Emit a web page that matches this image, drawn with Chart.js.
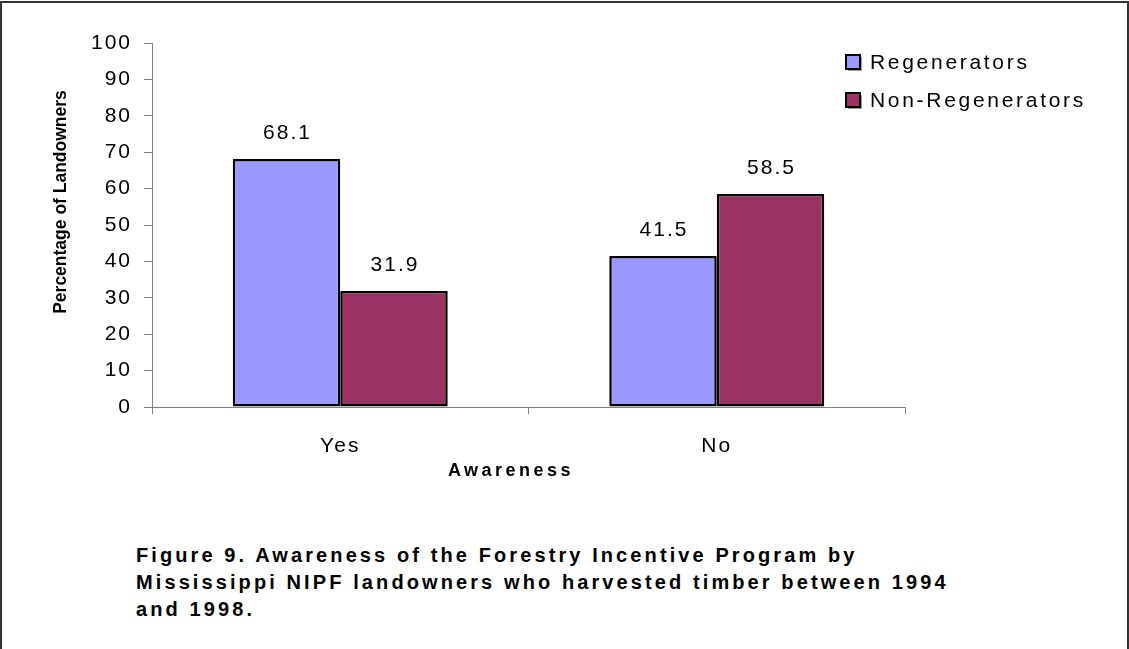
<!DOCTYPE html>
<html lang="en">
<head>
<meta charset="UTF-8">
<title>Figure 9. Awareness of the Forestry Incentive Program</title>
<script src="https://cdn.jsdelivr.net/npm/chart.js"></script>
<style>
    body { margin: 0; background: #fff; width: 1129px; height: 649px; overflow: hidden; }
    #frame { position: absolute; left: 0; top: 1px; width: 1125px; height: 660px; border: 2px solid #333; border-bottom: none; }
    #wrap { position: absolute; left: 0; top: 0; width: 1129px; height: 500px; }
    #caption {
        position: absolute; left: 136px; top: 542px;
        font: bold 20px "Liberation Sans", Arial, sans-serif;
        line-height: 27px; letter-spacing: 3.1px; color: #000;
    }
</style>
</head>
<body>
<div id="frame"></div>
<div id="wrap"><canvas id="chart" width="1129" height="500"></canvas></div>
<div id="caption">Figure 9. Awareness of the Forestry Incentive Program by<br>Mississippi NIPF landowners who harvested timber between 1994<br>and 1998.</div>

<script>
    const categories = ['Yes', 'No'];
    const regenerators = [68.1, 41.5];
    const nonRegenerators = [31.9, 58.5];
    const seriesNames = ['Regenerators', 'Non-Regenerators'];
    const seriesColors = ['#9999FF', '#993366'];
    const yTitle = 'Percentage of Landowners';
    const xTitle = 'Awareness';

    const FONT = '"Liberation Sans", Arial, sans-serif';

    // value labels, legend and axis titles drawn straight on the canvas
    const extras = {
        id: 'extras',
        beforeDraw(chart) {
            chart.ctx.letterSpacing = '2px';
        },
        afterDatasetsDraw(chart) {
            const ctx = chart.ctx;
            ctx.save();
            ctx.font = '21px ' + FONT;
            ctx.letterSpacing = '2px';
            ctx.fillStyle = '#000';
            ctx.textAlign = 'center';
            ctx.textBaseline = 'middle';
            chart.data.datasets.forEach((ds, i) => {
                chart.getDatasetMeta(i).data.forEach((bar, j) => {
                    ctx.fillText(ds.data[j].toFixed(1), bar.x + 1, bar.y - 26);
                });
            });
            ctx.restore();
        },
        afterDraw(chart) {
            const ctx = chart.ctx;
            const area = chart.chartArea;
            ctx.save();

            // legend
            ctx.font = '21px ' + FONT;
            ctx.letterSpacing = '2.7px';
            ctx.textAlign = 'left';
            ctx.textBaseline = 'middle';
            chart.data.datasets.forEach((ds, i) => {
                const y = 62 + i * 38;
                ctx.fillStyle = '#999';
                ctx.fillRect(848, y - 5, 14, 14);
                ctx.fillStyle = ds.backgroundColor;
                ctx.fillRect(846, y - 7, 14, 14);
                ctx.lineWidth = 2;
                ctx.strokeStyle = '#000';
                ctx.strokeRect(846, y - 7, 14, 14);
                ctx.fillStyle = '#000';
                ctx.fillText(ds.label, 870, y + 1);
            });

            // axis titles
            ctx.font = 'bold 17.5px ' + FONT;
            ctx.letterSpacing = '0px';
            ctx.textAlign = 'center';
            ctx.save();
            ctx.translate(61, 202);
            ctx.rotate(-Math.PI / 2);
            ctx.fillText(yTitle, 0, 0);
            ctx.restore();

            ctx.font = 'bold 18px ' + FONT;
            ctx.letterSpacing = '3.5px';
            ctx.fillText(xTitle, 511, area.bottom + 64);
            ctx.restore();
        }
    };

    new Chart(document.getElementById('chart'), {
        type: 'bar',
        data: {
            labels: categories,
            datasets: [
                { label: seriesNames[0], data: regenerators, backgroundColor: seriesColors[0] },
                { label: seriesNames[1], data: nonRegenerators, backgroundColor: seriesColors[1] }
            ]
        },
        options: {
            responsive: false,
            animation: false,
            events: [],
            layout: { padding: { left: 0, top: 43, right: 224, bottom: 0 } },
            datasets: {
                bar: {
                    borderColor: '#000',
                    borderWidth: 2.5,
                    borderSkipped: false,
                    categoryPercentage: 0.571,
                    barPercentage: 1
                }
            },
            plugins: {
                legend: { display: false },
                tooltip: { enabled: false }
            },
            scales: {
                x: {
                    afterFit(scale) { scale.height = 93; },
                    grid: {
                        drawOnChartArea: false,
                        drawTicks: true,
                        tickLength: 7,
                        color: '#808080'
                    },
                    border: { display: true, color: '#808080', width: 1 },
                    ticks: {
                        color: '#000',
                        font: { family: FONT, size: 21 },
                        padding: 20
                    }
                },
                y: {
                    min: 0,
                    max: 100,
                    afterFit(scale) { scale.width = 152; },
                    grid: {
                        drawOnChartArea: false,
                        drawTicks: true,
                        tickLength: 8,
                        color: '#808080'
                    },
                    border: { display: true, color: '#808080', width: 1 },
                    ticks: {
                        stepSize: 10,
                        color: '#000',
                        font: { family: FONT, size: 21 },
                        padding: 12
                    }
                }
            }
        },
        plugins: [extras]
    });
</script>
</body>
</html>
